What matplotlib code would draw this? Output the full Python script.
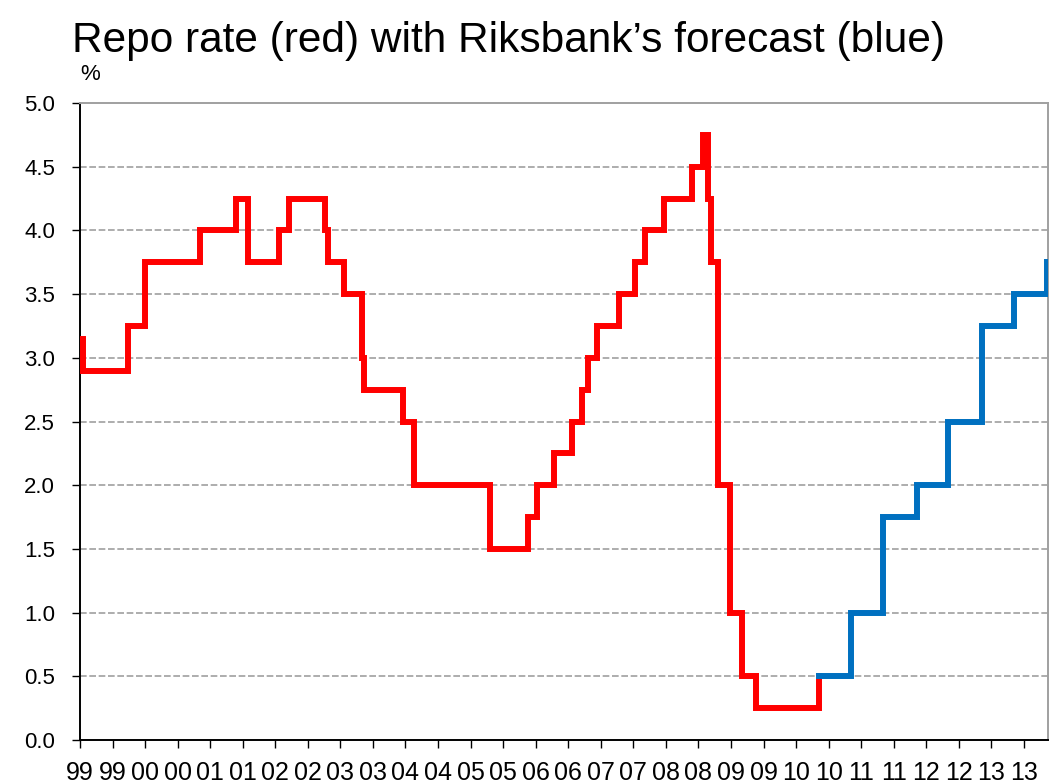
import matplotlib
matplotlib.use("Agg")
import matplotlib.pyplot as plt

plt.rcParams['font.family'] = ['Liberation Sans', 'DejaVu Sans']

# repo rate, dates in decimal years (step changes)
red_dates = [1999.12, 1999.17, 1999.86, 2000.12, 2000.96, 2001.52, 2001.70,
             2002.18, 2002.33, 2002.88, 2002.93, 2003.17, 2003.45, 2003.48,
             2004.08, 2004.25, 2005.42, 2006.00, 2006.14, 2006.40, 2006.68,
             2006.83, 2006.92, 2007.06, 2007.40, 2007.65, 2007.80, 2008.09,
             2008.52, 2008.69, 2008.77, 2008.81, 2008.92, 2009.10, 2009.29,
             2009.50, 2010.47]
red_values = [3.15, 2.90, 3.25, 3.75, 4.00, 4.25, 3.75,
              4.00, 4.25, 4.00, 3.75, 3.50, 3.00, 2.75,
              2.50, 2.00, 1.50, 1.75, 2.00, 2.25, 2.50,
              2.75, 3.00, 3.25, 3.50, 3.75, 4.00, 4.25,
              4.50, 4.75, 4.25, 3.75, 2.00, 1.00, 0.50,
              0.25, 0.50]

# Riksbank forecast
blue_dates = [2010.47, 2010.96, 2011.45, 2011.98, 2012.45, 2012.98, 2013.47,
              2013.97, 2013.99]
blue_values = [0.50, 1.00, 1.75, 2.00, 2.50, 3.25, 3.50, 3.75, 3.75]

x_start = 1999.12
x_end = 2013.99
tick_labels = ["99", "99", "00", "00", "01", "01", "02", "02", "03", "03",
               "04", "04", "05", "05", "06", "06", "07", "07", "08", "08",
               "09", "09", "10", "10", "11", "11", "12", "12", "13", "13"]

fig = plt.figure(figsize=(10.56, 7.83), dpi=100)
ax = fig.add_axes([80 / 1056, 1 - 740 / 783, 968 / 1056, 637 / 783])

ax.plot(red_dates, red_values, drawstyle="steps-post", color="#FF0000",
        lw=4.3, solid_joinstyle="miter", zorder=3)
ax.plot(blue_dates, blue_values, drawstyle="steps-post", color="#0070C0",
        lw=4.3, solid_joinstyle="miter", zorder=3)

ax.set_xlim(x_start, x_end)
ax.set_ylim(0, 5)
ax.set_yticks([i * 0.5 for i in range(11)])
ax.set_yticklabels([f"{i * 0.5:.1f}" for i in range(11)])
ax.set_xticks([x_start + 0.5 * k for k in range(len(tick_labels))])
ax.set_xticklabels(tick_labels, family=['Liberation Sans Narrow', 'Liberation Sans'],
                   fontsize=18)

ax.tick_params(axis="both", direction="out", length=6, width=1.0, color="black")
ax.tick_params(axis="y", labelsize=16, pad=12)
ax.tick_params(axis="x", pad=9)

for y in [i * 0.5 for i in range(1, 10)]:
    ax.axhline(y, color="#A0A0A0", lw=1.2, linestyle=(0, (4, 1.6)), zorder=1)

ax.spines["left"].set_color("black")
ax.spines["bottom"].set_color("black")
ax.spines["left"].set_linewidth(1.4)
ax.spines["bottom"].set_linewidth(1.4)
ax.spines["top"].set_color("#A0A0A0")
ax.spines["right"].set_color("#A0A0A0")
ax.spines["top"].set_linewidth(1.4)
ax.spines["right"].set_linewidth(1.4)

fig.text(72 / 1056, 1 - 52 / 783, "Repo rate (red) with Riksbank\u2019s forecast (blue)",
         fontsize=30.5, ha="left", va="baseline")
fig.text(80 / 1056, 1 - 80 / 783, "%", fontsize=16, ha="left", va="baseline")

fig.savefig("out.png", dpi=100)
